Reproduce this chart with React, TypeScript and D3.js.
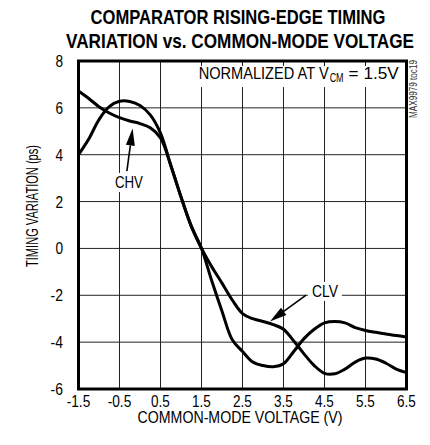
import React from "react";
import * as d3 from "d3";

const xTicks = [-1.5, -0.5, 0.5, 1.5, 2.5, 3.5, 4.5, 5.5, 6.5];
const yTicks = [-6, -4, -2, 0, 2, 4, 6, 8];

const vcm = [-1.5, -1.25, -1.0, -0.75, -0.5, -0.25, 0, 0.25, 0.5, 0.75, 1.0, 1.25, 1.5, 1.75, 2.0, 2.25, 2.5, 2.75, 3.0, 3.25, 3.5, 3.75, 4.0, 4.25, 4.5, 4.75, 5.0, 5.25, 5.5, 5.75, 6.0, 6.25, 6.5];

const chv = [6.72, 6.4, 6.05, 5.78, 5.58, 5.44, 5.33, 5.15, 4.72, 3.55, 2.2, 0.95, 0, -1.38, -2.68, -3.9, -4.4, -4.85, -5.0, -5.05, -4.92, -4.4, -3.85, -3.45, -3.18, -3.12, -3.18, -3.38, -3.5, -3.58, -3.65, -3.72, -3.78];

const clv = [4.0, 4.67, 5.5, 6.05, 6.28, 6.27, 6.1, 5.7, 4.92, 3.55, 2.2, 0.95, 0, -0.78, -1.48, -2.2, -2.78, -3.0, -3.12, -3.25, -3.45, -3.95, -4.5, -5.0, -5.33, -5.35, -5.15, -4.85, -4.68, -4.72, -4.9, -5.15, -5.3];

const FONT = "'Liberation Sans', Arial, sans-serif";

// approximate widths of a condensed sans face at ~17px
const charW = (c: string) => (c === "-" ? 4.8 : c === "." ? 3.6 : 7.6);
const strW = (s: string) => s.split("").reduce((a, c) => a + charW(c), 0);

export default function App() {
  const W = 430, H = 445;
  const L = 78.5, R = 406.5, T = 61, B = 389;
  const x = d3.scaleLinear().domain([-1.5, 6.5]).range([L, R]);
  const y = d3.scaleLinear().domain([-6, 8]).range([B, T]);
  const line = d3.line<number>()
    .x((_, i) => x(vcm[i]))
    .y((d) => y(d))
    .curve(d3.curveCatmullRom.alpha(0.5));

  // annotation anchors in data units
  const chvTip = [-0.18, 5.12];
  const chvTail = [-0.32, 3.3];
  const chvLbl = [-0.27, 2.58];
  const clvTip = [3.17, -3.12];
  const clvTail = [4.05, -1.99];
  const clvLbl = [4.51, -2.07];
  const normLbl = [1.43, 7.23];

  const arrowHead = (tail: number[], tip: number[]) => {
    const tx = x(tip[0]), ty = y(tip[1]);
    const sx = x(tail[0]), sy = y(tail[1]);
    const ang = Math.atan2(ty - sy, tx - sx);
    const len = 17, half = 4.5;
    const bx = tx - len * Math.cos(ang), by = ty - len * Math.sin(ang);
    const px = -Math.sin(ang) * half, py = Math.cos(ang) * half;
    return {
      line: `M${sx},${sy}L${bx},${by}`,
      head: `M${tx},${ty}L${bx + px},${by + py}L${bx - px},${by - py}Z`,
    };
  };
  const a1 = arrowHead(chvTail, chvTip);
  const a2 = arrowHead(clvTail, clvTip);
  const nx = x(normLbl[0]), ny = y(normLbl[1]);

  return (
    <svg width={W} height={H} style={{ display: "block", position: "absolute", left: 0, top: 0 }} fontFamily={FONT}>
      <rect x={0} y={0} width={W} height={H} fill="#fff" />
      <text x={238} y={24} textAnchor="middle" fontSize={21} fontWeight="bold" textLength={295} lengthAdjust="spacingAndGlyphs">COMPARATOR RISING-EDGE TIMING</text>
      <text x={240} y={48} textAnchor="middle" fontSize={21} fontWeight="bold" textLength={348} lengthAdjust="spacingAndGlyphs">VARIATION vs. COMMON-MODE VOLTAGE</text>

      {xTicks.map((t) => (
        <line key={"gx" + t} x1={x(t)} x2={x(t)} y1={T} y2={B} stroke="#222" strokeWidth={1} />
      ))}
      {yTicks.map((t) => (
        <line key={"gy" + t} x1={L} x2={R} y1={y(t)} y2={y(t)} stroke="#222" strokeWidth={1} />
      ))}

      {/* label backgrounds */}
      <rect x={nx - 3} y={ny - 13} width={206} height={21} fill="#fff" />
      <rect x={x(chvLbl[0]) - 17} y={y(chvLbl[1]) - 15} width={34} height={19} fill="#fff" />
      <rect x={x(clvLbl[0]) - 17} y={y(clvLbl[1]) - 15} width={34} height={19} fill="#fff" />

      <path d={line(chv) || ""} fill="none" stroke="#000" strokeWidth={3} strokeLinejoin="round" strokeLinecap="round" />
      <path d={line(clv) || ""} fill="none" stroke="#000" strokeWidth={3} strokeLinejoin="round" strokeLinecap="round" />

      <path d={a1.line} stroke="#000" strokeWidth={1.6} fill="none" />
      <path d={a1.head} fill="#000" />
      <path d={a2.line} stroke="#000" strokeWidth={1.6} fill="none" />
      <path d={a2.head} fill="#000" />

      <text x={x(chvLbl[0])} y={y(chvLbl[1])} textAnchor="middle" fontSize={17} textLength={28} lengthAdjust="spacingAndGlyphs">CHV</text>
      <text x={x(clvLbl[0])} y={y(clvLbl[1])} textAnchor="middle" fontSize={17} textLength={26} lengthAdjust="spacingAndGlyphs">CLV</text>
      <text x={nx} y={ny} fontSize={16.5} textLength={130} lengthAdjust="spacingAndGlyphs">NORMALIZED AT V</text>
      <text x={nx + 131} y={ny + 3} fontSize={12} textLength={14} lengthAdjust="spacingAndGlyphs">CM</text>
      <text x={nx + 150} y={ny} fontSize={16.5} textLength={50} lengthAdjust="spacingAndGlyphs">= 1.5V</text>

      <rect x={L} y={T} width={R - L} height={B - T} fill="none" stroke="#000" strokeWidth={3} />

      {yTicks.map((t) => (
        <text key={"yl" + t} x={63} y={y(t) + 6} textAnchor="end" fontSize={17} textLength={strW(String(t))} lengthAdjust="spacingAndGlyphs">{t}</text>
      ))}
      {xTicks.map((t) => (
        <text key={"xl" + t} x={x(t)} y={407} textAnchor="middle" fontSize={17} textLength={strW(t.toFixed(1))} lengthAdjust="spacingAndGlyphs">{t.toFixed(1)}</text>
      ))}
      <text x={240} y={423} textAnchor="middle" fontSize={16} textLength={205} lengthAdjust="spacingAndGlyphs">COMMON-MODE VOLTAGE (V)</text>
      <text transform={`translate(38,206) rotate(-90)`} textAnchor="middle" fontSize={16} textLength={122} lengthAdjust="spacingAndGlyphs">TIMING VARIATION (ps)</text>
      <text transform={`translate(417,89) rotate(-90)`} textAnchor="middle" fontSize={10} fill="#333" textLength={58} lengthAdjust="spacingAndGlyphs">MAX9979 toc19</text>
    </svg>
  );
}
